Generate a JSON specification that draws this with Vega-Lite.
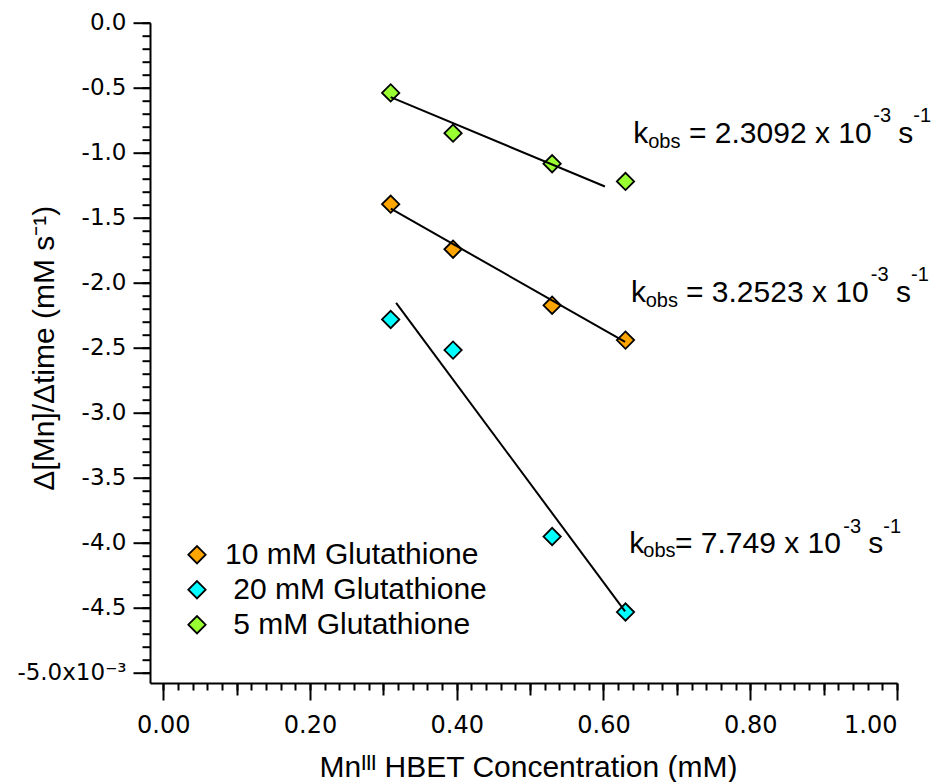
{
  "$schema": "https://vega.github.io/schema/vega-lite/v6.json",
  "autosize": {"type": "none"},
  "width": 747,
  "height": 660.3,
  "padding": {"left": 150, "top": 22.7, "right": 34, "bottom": 99},
  "background": "white",
  "config": {
    "view": {"stroke": null},
    "axis": {"domainColor": "black", "tickColor": "black", "labelColor": "black", "titleColor": "black", "domainWidth": 2, "tickWidth": 2, "grid": false, "titleFontWeight": "normal"}
  },
  "datasets": {
    "points": [
      {"group": "10 mM Glutathione", "conc": 0.31, "rate": -1.396},
      {"group": "10 mM Glutathione", "conc": 0.395, "rate": -1.743},
      {"group": "10 mM Glutathione", "conc": 0.53, "rate": -2.174},
      {"group": "10 mM Glutathione", "conc": 0.63, "rate": -2.442},
      {"group": "\u200b\u00a020 mM Glutathione", "conc": 0.31, "rate": -2.283},
      {"group": "\u200b\u00a020 mM Glutathione", "conc": 0.395, "rate": -2.519},
      {"group": "\u200b\u00a020 mM Glutathione", "conc": 0.53, "rate": -3.953},
      {"group": "\u200b\u00a020 mM Glutathione", "conc": 0.63, "rate": -4.534},
      {"group": "\u200b\u00a05 mM Glutathione", "conc": 0.31, "rate": -0.540},
      {"group": "\u200b\u00a05 mM Glutathione", "conc": 0.395, "rate": -0.850},
      {"group": "\u200b\u00a05 mM Glutathione", "conc": 0.53, "rate": -1.085},
      {"group": "\u200b\u00a05 mM Glutathione", "conc": 0.63, "rate": -1.221}
    ],
    "fits": [
      {"series": "5 mM fit", "conc": 0.31, "rate": -0.573},
      {"series": "5 mM fit", "conc": 0.602, "rate": -1.260},
      {"series": "10 mM fit", "conc": 0.3102, "rate": -1.431},
      {"series": "10 mM fit", "conc": 0.6294, "rate": -2.455},
      {"series": "20 mM fit", "conc": 0.3174, "rate": -2.156},
      {"series": "20 mM fit", "conc": 0.6294, "rate": -4.529}
    ],
    "labelsMain": [
      {"text": "k", "conc": 0.6406, "rate": -0.9231},
      {"text": "= 2.3092 x 10", "conc": 0.7165, "rate": -0.9231},
      {"text": "s", "conc": 1.0018, "rate": -0.9231},
      {"text": "k", "conc": 0.6374, "rate": -2.1462},
      {"text": "= 3.2523 x 10", "conc": 0.7124, "rate": -2.1462},
      {"text": "s", "conc": 0.9986, "rate": -2.1462},
      {"text": "k", "conc": 0.6351, "rate": -4.0769},
      {"text": "= 7.749 x 10", "conc": 0.6974, "rate": -4.0769},
      {"text": "s", "conc": 0.9609, "rate": -4.0769}
    ],
    "labelsSmall": [
      {"text": "obs", "conc": 0.6610, "rate": -0.9615},
      {"text": "-3", "conc": 0.9677, "rate": -0.7638},
      {"text": "-1", "conc": 1.0222, "rate": -0.7638},
      {"text": "obs", "conc": 0.6575, "rate": -2.1846},
      {"text": "-3", "conc": 0.9642, "rate": -1.9869},
      {"text": "-1", "conc": 1.0191, "rate": -1.9869},
      {"text": "obs", "conc": 0.6542, "rate": -4.1077},
      {"text": "-3", "conc": 0.9268, "rate": -3.9223},
      {"text": "-1", "conc": 0.9813, "rate": -3.9223}
    ]
  },
  "resolve": {"axis": {"x": "independent", "y": "independent"}},
  "layer": [
    {
      "data": {"name": "points"},
      "mark": {"type": "point", "shape": "diamond", "filled": true, "size": 300, "stroke": "black", "strokeWidth": 1.8, "opacity": 1},
      "encoding": {
        "x": {"field": "conc", "type": "quantitative",
          "scale": {"domain": [-0.018, 1.0], "nice": false, "zero": false},
          "axis": {"orient": "bottom", "values": [0, 0.2, 0.4, 0.6, 0.8, 1.0], "tickSize": 17,
            "labelFont": "DejaVu Sans", "labelFontSize": 24, "labelPadding": 13,
            "labelExpr": "format(datum.value, '.2f')",
            "title": "Mnᴵᴵᴵ HBET Concentration (mM)", "titleFont": "Liberation Sans", "titleFontSize": 30,
            "titleX": 378, "titleY": 93.7, "titleBaseline": "alphabetic"}},
        "y": {"field": "rate", "type": "quantitative",
          "scale": {"domain": [-5.08, 0], "nice": false, "zero": false},
          "axis": {"orient": "left", "values": [0, -0.5, -1, -1.5, -2, -2.5, -3, -3.5, -4, -4.5, -5], "tickSize": 17,
            "labelFont": "DejaVu Sans", "labelFontSize": 23, "labelPadding": 7,
            "labelExpr": "datum.value == -5 ? '-5.0x10⁻³' : (datum.value < 0 ? '-' : '') + format(abs(datum.value), '.1f')",
            "title": "Δ[Mn]/Δtime (mM s⁻¹)", "titleFont": "Liberation Sans", "titleFontSize": 30,
            "titleX": -97, "titleY": 325, "titleBaseline": "alphabetic", "titleAngle": -90}},
        "color": {"field": "group", "type": "nominal",
          "scale": {"domain": ["10 mM Glutathione", "\u200b\u00a020 mM Glutathione", "\u200b\u00a05 mM Glutathione"], "range": ["#FFA500", "#00FFFF", "#99FF33"]},
          "legend": {"title": null, "orient": "none", "legendX": 32, "legendY": 517,
            "labelFont": "Liberation Sans", "labelFontSize": 30, "labelColor": "black", "labelLimit": 500,
            "symbolType": "diamond", "symbolSize": 300, "symbolStrokeColor": "black", "symbolStrokeWidth": 1.8,
            "labelOffset": 13, "rowPadding": 5, "padding": 0}}
      }
    },
    {
      "data": {"name": "fits"},
      "mark": {"type": "line", "color": "black", "strokeWidth": 2},
      "encoding": {
        "x": {"field": "conc", "type": "quantitative",
          "axis": {"orient": "bottom", "values": [0, 0.02, 0.04, 0.06, 0.08, 0.1, 0.12, 0.14, 0.16, 0.18, 0.2, 0.22, 0.24, 0.26, 0.28, 0.3, 0.32, 0.34, 0.36, 0.38, 0.4, 0.42, 0.44, 0.46, 0.48, 0.5, 0.52, 0.54, 0.56, 0.58, 0.6, 0.62, 0.64, 0.66, 0.68, 0.7, 0.72, 0.74, 0.76, 0.78, 0.8, 0.82, 0.84, 0.86, 0.88, 0.9, 0.92, 0.94, 0.96, 0.98, 1.0],
            "tickSize": 7, "labels": false, "domain": false, "title": null}},
        "y": {"field": "rate", "type": "quantitative",
          "axis": {"orient": "left", "values": [0, -0.1, -0.2, -0.3, -0.4, -0.5, -0.6, -0.7, -0.8, -0.9, -1.0, -1.1, -1.2, -1.3, -1.4, -1.5, -1.6, -1.7, -1.8, -1.9, -2.0, -2.1, -2.2, -2.3, -2.4, -2.5, -2.6, -2.7, -2.8, -2.9, -3.0, -3.1, -3.2, -3.3, -3.4, -3.5, -3.6, -3.7, -3.8, -3.9, -4.0, -4.1, -4.2, -4.3, -4.4, -4.5, -4.6, -4.7, -4.8, -4.9, -5.0],
            "tickSize": 8, "labels": false, "domain": false, "title": null}},
        "detail": {"field": "series", "type": "nominal"}
      }
    },
    {
      "data": {"name": "labelsMain"},
      "mark": {"type": "text", "align": "left", "baseline": "alphabetic", "font": "Liberation Sans", "fontSize": 30, "color": "black"},
      "encoding": {
        "x": {"field": "conc", "type": "quantitative",
          "axis": {"orient": "bottom", "values": [0.1, 0.3, 0.5, 0.7, 0.9], "tickSize": 12, "labels": false, "domain": false, "title": null}},
        "y": {"field": "rate", "type": "quantitative", "axis": null},
        "text": {"field": "text"}
      }
    },
    {
      "data": {"name": "labelsSmall"},
      "mark": {"type": "text", "align": "left", "baseline": "alphabetic", "font": "Liberation Sans", "fontSize": 20, "color": "black"},
      "encoding": {
        "x": {"field": "conc", "type": "quantitative", "axis": null},
        "y": {"field": "rate", "type": "quantitative", "axis": null},
        "text": {"field": "text"}
      }
    }
  ]
}
